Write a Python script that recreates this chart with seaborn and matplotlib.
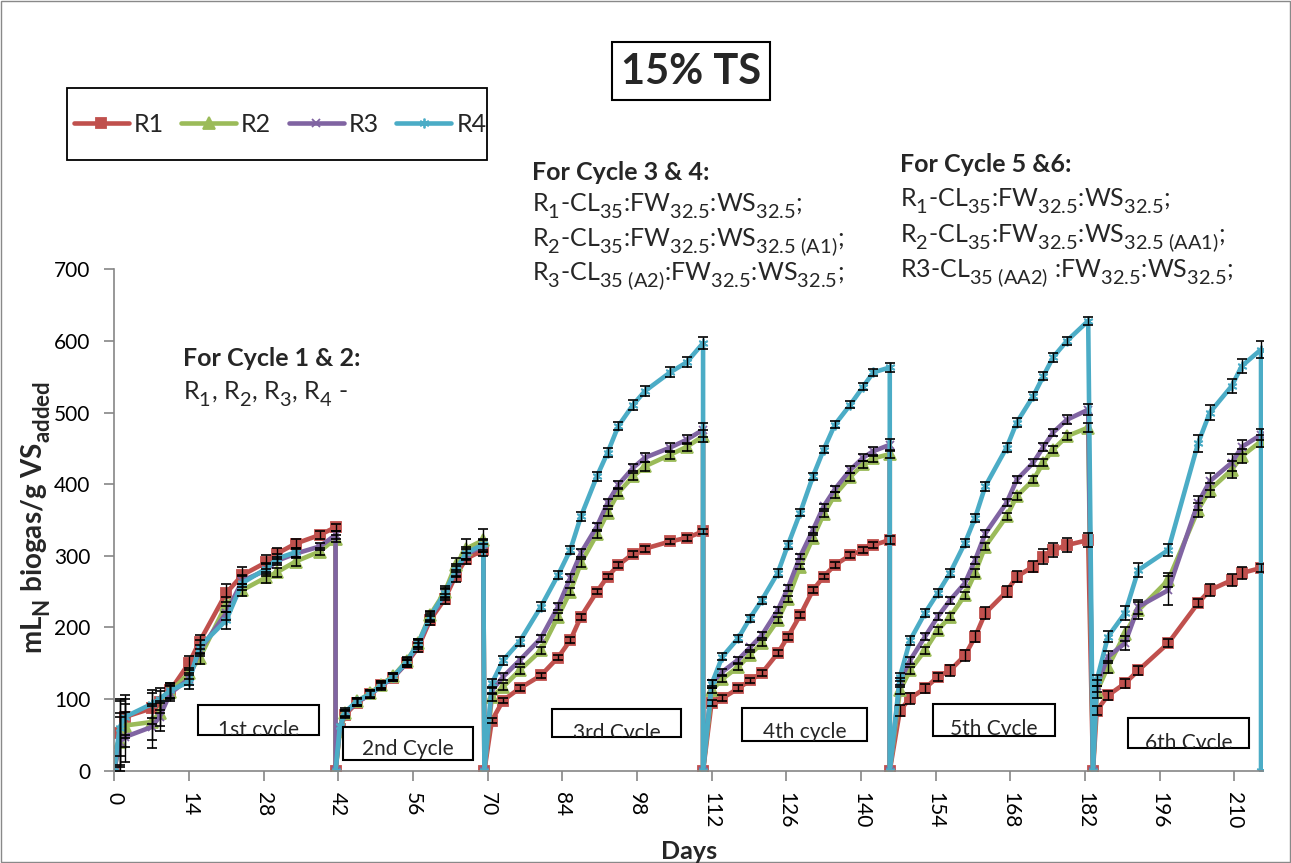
import numpy as np
import pandas as pd
import matplotlib
matplotlib.use("Agg")
import matplotlib.pyplot as plt
import matplotlib._mathtext as _mt
from matplotlib.patches import Rectangle
from matplotlib.lines import Line2D
import seaborn as sns

# ------------------------------------------------------------------ data
reactors = ["R1", "R2", "R3", "R4"]
palette = {"R1": "#C0504D", "R2": "#9BBB59", "R3": "#8064A2", "R4": "#4BACC6"}

# cycle 1
days_c1 = [0, 1, 2, 7, 8.5, 10.5, 14, 16, 21, 24, 28.5, 30.5, 34, 38.5, 41.5]
r1_c1 = [0, 53, 75, 87, 96, 112, 150, 180, 248, 273, 291, 303, 317, 329, 340]
r2_c1 = [0, 40, 63, 68, 80, 110, 136, 157, 232, 252, 270, 277, 292, 306, 324]
r3_c1 = [0, 40, 47, 61, 75, 108, 128, 168, 220, 265, 280, 293, 303, 313, 329]
r4_c1 = [0, 60, 75, 93, 100, 112, 124, 173, 210, 262, 282, 296, 305]
e1_c1 = [0, 45, 30, 22, 15, 10, 10, 10, 12, 12, 10, 8, 6, 6, 5]
e2_c1 = [0, 35, 30, 25, 18, 10, 8, 8, 10, 8, 8, 6, 6, 5, 5]
e3_c1 = [0, 40, 35, 30, 20, 10, 8, 8, 10, 8, 8, 6, 6, 5, 5]
e4_c1 = [0, 40, 25, 20, 15, 10, 10, 10, 12, 10, 8, 6, 6]

# cycle 2
days_c2 = [41.5, 42.3, 43.3, 45.5, 48, 50, 52.3, 54.8, 57, 59.2, 62, 64, 66, 69.2]
r1_c2 = [0, 58, 78, 95, 107, 120, 130, 150, 172, 210, 240, 272, 296, 308]
r2_c2 = [0, 55, 80, 97, 108, 120, 132, 153, 178, 217, 250, 287, 310, 322]
r3_c2 = [0, 60, 80, 96, 106, 118, 130, 150, 176, 213, 246, 278, 302, 314]
r4_c2 = [0, 62, 82, 97, 107, 119, 131, 152, 178, 215, 248, 280, 304, 316]
e1_c2 = [0, 0, 5, 5, 5, 5, 5, 5, 6, 6, 7, 8, 8, 8]
e2_c2 = [0, 0, 5, 5, 5, 5, 5, 6, 6, 6, 8, 10, 14, 16]
e3_c2 = [0, 0, 5, 5, 5, 5, 5, 5, 6, 6, 7, 8, 8, 8]
e4_c2 = [0, 0, 5, 5, 5, 5, 5, 5, 6, 6, 7, 8, 8, 8]

# cycle 3
days_c3 = [69.4, 70.8, 72.9, 76, 80, 83.2, 85.5, 87.5, 90.5, 92.5, 94.5, 97.3, 99.5, 104.2, 107.3, 110.4]
r1_c3 = [0, 70, 98, 115, 133, 158, 182, 215, 250, 271, 287, 303, 310, 320, 325, 334]
r2_c3 = [0, 103, 117, 140, 168, 215, 250, 290, 330, 360, 388, 411, 425, 441, 452, 467]
r3_c3 = [0, 112, 131, 154, 185, 229, 269, 304, 341, 374, 399, 423, 437, 451, 462, 476]
r4_c3 = [0, 122, 154, 180, 229, 273, 308, 355, 411, 444, 481, 511, 530, 556, 570, 597]
e1_c3 = [0, 4, 4, 4, 4, 4, 4, 4, 4, 4, 4, 4, 4, 4, 4, 4]
e2_c3 = [0, 5, 5, 5, 5, 5, 5, 5, 5, 5, 5, 5, 6, 6, 6, 8]
e3_c3 = [0, 5, 5, 5, 5, 5, 5, 5, 5, 5, 5, 5, 6, 6, 6, 10]
e4_c3 = [0, 6, 6, 6, 6, 6, 6, 6, 6, 6, 6, 7, 7, 7, 7, 8]

# cycle 4
days_c4 = [110.4, 112, 114, 117, 119.2, 121.4, 124.4, 126.3, 128.6, 131, 133, 135.1, 138, 140.4, 142.3, 145.4]
r1_c4 = [0, 95, 101, 115, 126, 136, 164, 187, 217, 252, 271, 287, 301, 308, 315, 322]
r2_c4 = [0, 112, 128, 145, 162, 178, 210, 240, 285, 325, 358, 385, 410, 428, 436, 442]
r3_c4 = [0, 122, 138, 155, 172, 189, 224, 255, 299, 336, 369, 393, 420, 437, 446, 455]
r4_c4 = [0, 121, 159, 185, 213, 238, 276, 315, 360, 411, 448, 483, 511, 536, 556, 563]
e1_c4 = [0, 4, 4, 4, 4, 4, 4, 4, 4, 4, 4, 4, 4, 4, 4, 5]
e2_c4 = [0, 4, 4, 4, 4, 4, 4, 4, 4, 4, 4, 4, 5, 5, 5, 6]
e3_c4 = [0, 4, 4, 4, 4, 4, 4, 4, 4, 4, 4, 4, 5, 5, 6, 8]
e4_c4 = [0, 5, 5, 5, 5, 5, 5, 5, 5, 5, 5, 5, 5, 5, 5, 6]

# cycle 5
days_c5 = [145.4, 147.3, 149.2, 152, 154.4, 156.7, 159.5, 161.4, 163.3, 167.3, 169.2, 172.3, 174.2, 176, 178.6, 182.6]
r1_c5 = [0, 84, 101, 115, 131, 140, 161, 187, 220, 250, 271, 285, 299, 308, 315, 322]
r2_c5 = [0, 112, 140, 168, 196, 215, 245, 276, 313, 355, 383, 406, 430, 448, 467, 479]
r3_c5 = [0, 125, 154, 187, 215, 238, 262, 294, 331, 374, 406, 430, 452, 472, 490, 504]
r4_c5 = [0, 131, 182, 220, 248, 276, 318, 353, 397, 451, 486, 523, 551, 577, 600, 628]
e1_c5 = [0, 8, 8, 6, 6, 8, 8, 8, 8, 8, 8, 8, 10, 10, 10, 10]
e2_c5 = [0, 5, 5, 5, 5, 5, 5, 5, 5, 5, 5, 5, 5, 5, 5, 6]
e3_c5 = [0, 5, 5, 5, 5, 5, 5, 5, 5, 5, 5, 5, 5, 5, 6, 8]
e4_c5 = [0, 6, 6, 6, 6, 6, 6, 6, 6, 6, 6, 6, 6, 6, 6, 6]

# cycle 6 (R4 drops back to zero at the last day)
days_c6 = [183.5, 184.2, 186.3, 189.5, 192, 197.6, 203.2, 205.4, 209.5, 211.4, 215, 215]
r1_c6 = [0, 84, 105, 122, 140, 178, 234, 252, 266, 276, 283]
r2_c6 = [0, 110, 145, 191, 224, 266, 364, 392, 420, 439, 460]
r3_c6 = [0, 118, 159, 178, 229, 252, 374, 404, 430, 452, 469]
r4_c6 = [0, 126, 187, 220, 280, 308, 457, 500, 537, 565, 588, 0]
e1_c6 = [0, 6, 6, 6, 6, 6, 6, 8, 8, 8, 6]
e2_c6 = [0, 8, 8, 10, 12, 10, 10, 10, 12, 10, 8]
e3_c6 = [0, 8, 8, 10, 10, 20, 10, 12, 12, 10, 8]
e4_c6 = [0, 8, 8, 10, 10, 8, 12, 10, 10, 10, 12, 0]

x_ticks = list(range(0, 211, 14))
y_ticks = list(range(0, 701, 100))

title_text = "15% TS"
note_c12_head = "For Cycle 1 & 2:"
note_c12 = r"R$_{1}$, R$_{2}$, R$_{3}$, R$_{4}$ -"
note_c34_head = "For Cycle 3 & 4:"
note_c34 = [r"R$_{1}$-CL$_{35}$:FW$_{32.5}$:WS$_{32.5}$;",
            r"R$_{2}$-CL$_{35}$:FW$_{32.5}$:WS$_{32.5\ (A1)}$;",
            r"R$_{3}$-CL$_{35\ (A2)}$:FW$_{32.5}$:WS$_{32.5}$;"]
note_c56_head = "For Cycle 5 &6:"
note_c56 = [r"R$_{1}$-CL$_{35}$:FW$_{32.5}$:WS$_{32.5}$;",
            r"R$_{2}$-CL$_{35}$:FW$_{32.5}$:WS$_{32.5\ (AA1)}$;",
            r"R3-CL$_{35\ (AA2)}$ :FW$_{32.5}$:WS$_{32.5}$;"]
cycle_labels = ["1st cycle", "2nd Cycle", "3rd Cycle", "4th cycle", "5th Cycle", "6th Cycle"]

# ------------------------------------------------------------------ table
cycles_days = [days_c1, days_c2, days_c3, days_c4, days_c5, days_c6]
values = {"R1": [r1_c1, r1_c2, r1_c3, r1_c4, r1_c5, r1_c6],
          "R2": [r2_c1, r2_c2, r2_c3, r2_c4, r2_c5, r2_c6],
          "R3": [r3_c1, r3_c2, r3_c3, r3_c4, r3_c5, r3_c6],
          "R4": [r4_c1, r4_c2, r4_c3, r4_c4, r4_c5, r4_c6]}
errors = {"R1": [e1_c1, e1_c2, e1_c3, e1_c4, e1_c5, e1_c6],
          "R2": [e2_c1, e2_c2, e2_c3, e2_c4, e2_c5, e2_c6],
          "R3": [e3_c1, e3_c2, e3_c3, e3_c4, e3_c5, e3_c6],
          "R4": [e4_c1, e4_c2, e4_c3, e4_c4, e4_c5, e4_c6]}
rows = []
for r in reactors:
    for ci in range(6):
        v = values[r][ci]
        e = errors[r][ci]
        d = cycles_days[ci]
        # R4 has no readings between day 34 and the end of cycle 1 -> line break
        seg = f"{r}a" if (r == "R4" and ci == 0) else f"{r}b"
        for k in range(len(v)):
            rows.append((r, seg, d[k], v[k], e[k]))
df = pd.DataFrame(rows, columns=["reactor", "seg", "day", "value", "err"])

# ------------------------------------------------------------------ style
sns.set_theme(style="ticks")
plt.rcParams["font.family"] = ["Lato", "DejaVu Sans"]
plt.rcParams["mathtext.fontset"] = "custom"
plt.rcParams["mathtext.rm"] = "Lato"
plt.rcParams["mathtext.it"] = "Lato:italic"
plt.rcParams["mathtext.bf"] = "Lato:bold"
plt.rcParams["mathtext.default"] = "regular"
_mt.SHRINK_FACTOR = 0.8           # larger subscripts, like the original
_mt.FontConstantsBase.sub1 = 0.55  # subscripts sit lower
_mt.FontConstantsBase.sub2 = 0.6

W, H = 1291, 863
fig = plt.figure(figsize=(W / 100, H / 100), dpi=100)
fig.patch.set_facecolor("white")


def fx(x):
    return x / W


def fy(y):
    return 1 - y / H


ax = fig.add_axes([fx(114.2), fy(770.7), 215.3 * 5.334 / W, 501.4 / H])
ax.set_facecolor("white")

markers = {"R1": "s", "R2": "^", "R3": "x", "R4": (6, 2, 0)}
msizes = {"R1": 7, "R2": 8, "R3": 6, "R4": 7}
lw = 3.3
for r in reactors:
    sub = df[df.reactor == r]
    sns.lineplot(data=sub, x="day", y="value", units="seg", estimator=None,
                 sort=False, color=palette[r], marker=markers[r],
                 markersize=msizes[r], markerfacecolor=palette[r],
                 markeredgecolor=palette[r], markeredgewidth=1.3,
                 linewidth=lw, ax=ax, legend=False, zorder=2)
    eb = sub[sub.err > 0]
    ax.errorbar(eb.day, eb.value, yerr=eb.err, fmt="none", ecolor="black",
                elinewidth=1.0, capsize=3.5, capthick=1.2, zorder=4)

ax.set_xlim(0, 215.3)
ax.set_ylim(0, 700)
ax.set_xticks(x_ticks)
ax.set_xticklabels([str(t) for t in x_ticks], rotation=270, fontsize=15)
ax.set_yticks(y_ticks)
ax.set_yticklabels([str(t) for t in y_ticks], fontsize=15)
ax.tick_params(axis="both", direction="out", length=7, width=1.2,
               color="#868686", labelcolor="black")
ax.tick_params(axis="y", pad=10)
ax.tick_params(axis="x", pad=8)
for s in ["top", "right"]:
    ax.spines[s].set_visible(False)
for s in ["left", "bottom"]:
    ax.spines[s].set_color("#868686")
    ax.spines[s].set_linewidth(1.2)
ax.set_xlabel("")
ax.set_ylabel("")

fig.text(fx(689), fy(851), "Days", ha="center", va="center",
         fontsize=18, fontweight="bold")
fig.text(fx(36), fy(518), r"mL$_{N}$ biogas/g VS$_{added}$", ha="center",
         va="center", rotation=90, fontsize=20, fontweight="bold")

# title box
fig.add_artist(Rectangle((fx(612), fy(100)), (770 - 612) / W, (100 - 42) / H,
                         transform=fig.transFigure, fill=False, ec="black", lw=1.5))
fig.text(fx(691), fy(72), title_text, ha="center", va="center",
         fontsize=30, fontweight="bold")

# legend
fig.add_artist(Rectangle((fx(67), fy(160)), (487 - 67) / W, (160 - 88) / H,
                         transform=fig.transFigure, fill=False, ec="black", lw=1.3))
handles = [Line2D([0], [0], color=palette[r], lw=lw, marker=markers[r],
                  markersize=msizes[r], markerfacecolor=palette[r],
                  markeredgecolor=palette[r], markeredgewidth=1.3,
                  solid_capstyle="round") for r in reactors]
fig.legend(handles, reactors, loc="center", bbox_to_anchor=(fx(280), fy(124)),
           ncol=4, frameon=False, fontsize=18, handlelength=2.2,
           handletextpad=0.2, columnspacing=0.7)

# notes
fs_note = 18
fig.text(fx(183), fy(366), note_c12_head, fontsize=fs_note, fontweight="bold", va="baseline")
fig.text(fx(183), fy(400), note_c12, fontsize=fs_note, va="baseline")
fig.text(fx(532), fy(180), note_c34_head, fontsize=fs_note, fontweight="bold", va="baseline")
for t, yb in zip(note_c34, [211.7, 245.7, 280]):
    fig.text(fx(532), fy(yb), t, fontsize=fs_note, va="baseline")
fig.text(fx(900), fy(171.7), note_c56_head, fontsize=fs_note, fontweight="bold", va="baseline")
for t, yb in zip(note_c56, [206.7, 241.7, 276.7]):
    fig.text(fx(900), fy(yb), t, fontsize=fs_note, va="baseline")

# cycle label boxes (x0, x1, y0, y1, baseline)
boxes = [(198, 319, 705, 735, 736),
         (343, 473, 727, 760, 755),
         (552, 681, 709, 737, 739),
         (742, 867, 708, 741, 738),
         (933, 1055, 704, 736, 735),
         (1128, 1249, 718, 748, 749)]
for lab, (x0, x1, y0, y1, yb) in zip(cycle_labels, boxes):
    rect = Rectangle((fx(x0), fy(y1)), (x1 - x0) / W, (y1 - y0) / H,
                     transform=fig.transFigure, fc="white", ec="black", lw=1.5,
                     zorder=5)
    fig.add_artist(rect)
    t = fig.text(fx((x0 + x1) / 2), fy(yb), lab, ha="center", va="baseline",
                 fontsize=15, zorder=6)
    t.set_clip_path(rect)

# outer chart border
fig.add_artist(Rectangle((0.6 / W, 0.6 / H), 1 - 1.2 / W, 1 - 1.2 / H,
                         transform=fig.transFigure, fill=False, ec="#898989", lw=1.0))

fig.savefig("out.png", dpi=100, facecolor="white")
